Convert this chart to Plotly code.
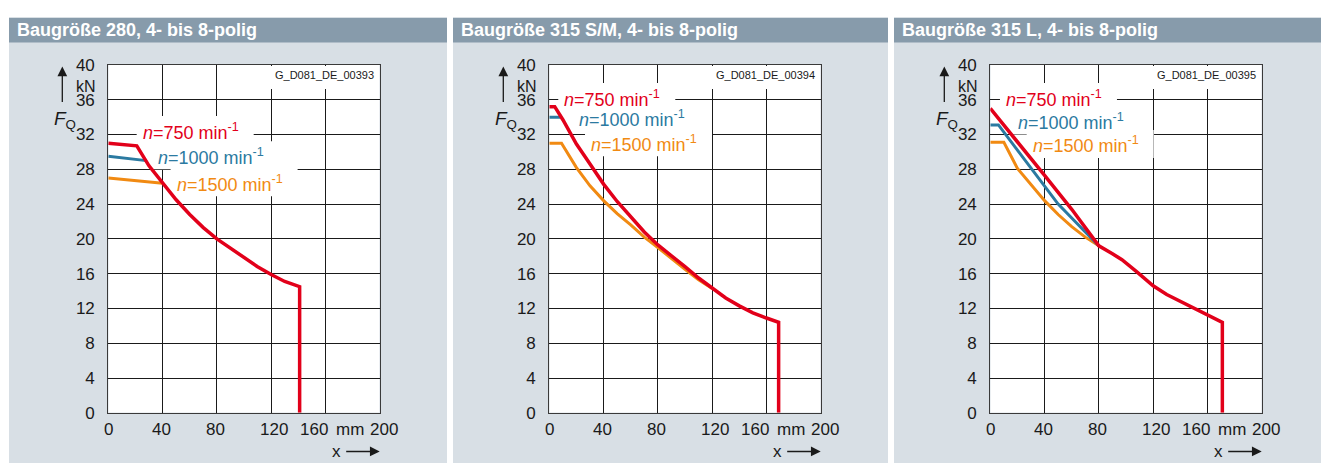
import plotly.graph_objects as go

W, H = 1321, 473

# ---- data -------------------------------------------------------------
titles = [
    "Baugröße 280, 4- bis 8-polig",
    "Baugröße 315 S/M, 4- bis 8-polig",
    "Baugröße 315 L, 4- bis 8-polig",
]
codes = ["G_D081_DE_00393", "G_D081_DE_00394", "G_D081_DE_00395"]
speed_labels = [
    "<i>n</i>=750 min<sup>-1</sup>",
    "<i>n</i>=1000 min<sup>-1</sup>",
    "<i>n</i>=1500 min<sup>-1</sup>",
]
x_tickvals = [0, 40, 80, 120, 160, 180, 200]
x_ticktext = ["0", "40", "80", "120", "160", "mm", "200"]
x_grid = [40, 80, 120, 160]
y_ticks = [0, 4, 8, 12, 16, 20, 24, 28, 32, 36, 40]

# Baugröße 280
x280_750 = [0, 21, 30, 40, 50, 60, 70, 80, 90, 100, 110, 120, 130, 141, 141]
y280_750 = [31.0, 30.7, 28.4, 26.4, 24.5, 22.8, 21.3, 20.0, 18.9, 17.8, 16.8, 15.9, 15.1, 14.5, 0]
x280_1000 = [0, 28]
y280_1000 = [29.5, 29.0]
x280_1500 = [0, 40]
y280_1500 = [27.0, 26.4]

# Baugröße 315 S/M
x315sm_750 = [0, 4, 10, 20, 30, 40, 50, 60, 70, 80, 90, 100, 110, 120, 130, 140, 150, 160, 169, 169]
y315sm_750 = [35.2, 35.2, 33.7, 30.9, 28.6, 26.3, 24.3, 22.5, 20.8, 19.3, 18.1, 16.8, 15.5, 14.3, 13.2, 12.3, 11.5, 10.9, 10.4, 0]
x315sm_1000 = [0, 8]
y315sm_1000 = [34.0, 34.0]
x315sm_1500 = [0, 9, 20, 30, 40, 50, 60, 70, 80, 90, 100, 110, 120]
y315sm_1500 = [31.0, 31.0, 28.2, 26.1, 24.4, 22.9, 21.6, 20.2, 19.0, 17.7, 16.5, 15.3, 14.3]

# Baugröße 315 L
x315l_750 = [0, 20, 40, 60, 80, 90, 97, 108, 120, 130, 140, 150, 160, 171, 171]
y315l_750 = [35.0, 31.2, 27.3, 23.4, 19.2, 18.3, 17.6, 16.2, 14.6, 13.6, 12.8, 12.0, 11.2, 10.4, 0]
x315l_1000 = [0, 6, 20, 40, 50, 60, 70, 80]
y315l_1000 = [33.1, 33.1, 30.2, 26.0, 24.0, 22.4, 20.8, 19.2]
x315l_1500 = [0, 10, 20, 30, 40, 50, 60, 70, 80]
y315l_1500 = [31.1, 31.1, 28.1, 26.2, 24.4, 22.8, 21.4, 20.2, 19.2]

# label anchor (start of text, centre height) per panel: 750 / 1000 / 1500
label_pos = [
    [(24.6, 32.4), (35.6, 29.5), (49.6, 26.4)],
    [(10.3, 36.2), (21.4, 33.9), (30.0, 31.0)],
    [(10.8, 36.2), (19.4, 33.5), (30.5, 30.8)],
]

curves = [
    [(x280_750, y280_750), (x280_1000, y280_1000), (x280_1500, y280_1500)],
    [(x315sm_750, y315sm_750), (x315sm_1000, y315sm_1000), (x315sm_1500, y315sm_1500)],
    [(x315l_750, y315l_750), (x315l_1000, y315l_1000), (x315l_1500, y315l_1500)],
]

# ---- styling ----------------------------------------------------------
RED = "#e2001a"
BLUE = "#2b7aa1"
ORANGE = "#f18a12"
colors = [RED, BLUE, ORANGE]
widths = [3.5, 3, 3]
label_box_w = [112, 122, 122]               # white knock-out behind each speed label (px)
x_label_shift = [0, -1, -1, 2.5, -11, -3, 4]  # pixel nudges of the x-axis texts
HEADER = "#879bab"
BODY = "#d8dfe5"
INK = "#1a1a1a"
FONT = "Liberation Sans, Arial, sans-serif"

# page-pixel layout
panel_px = [(9, 447), (453, 888), (894, 1321)]
plot_left = [108.3, 549.3, 990.3]
plot_w = 271.4
plot_top, plot_bot = 58.3, 420.7


def px(x):
    return min(max(x / W, 0), 1)


def py(y):
    return min(max(1 - y / H, 0), 1)


fig = go.Figure()
shapes = []
annotations = []

for i in range(3):
    xa = "x" if i == 0 else f"x{i + 1}"
    ya = "y" if i == 0 else f"y{i + 1}"
    L = plot_left[i]
    R = L + plot_w

    # panel background and title bar
    p0, p1 = panel_px[i]
    shapes.append(dict(type="rect", xref="paper", yref="paper", layer="below",
                       x0=px(p0), x1=px(p1), y0=0, y1=py(9),
                       fillcolor=BODY, line=dict(width=0)))
    shapes.append(dict(type="rect", xref="paper", yref="paper", layer="below",
                       x0=px(p0), x1=px(p1), y0=py(35), y1=py(9),
                       fillcolor=HEADER, line=dict(width=0)))
    # white plotting area
    shapes.append(dict(type="rect", xref=xa, yref=ya, layer="below",
                       x0=0, x1=200, y0=0, y1=40,
                       fillcolor="white", line=dict(width=0)))

    annotations.append(dict(xref="paper", yref="paper", x=px(p0 + 6), y=py(22),
                            xanchor="left", yanchor="middle", showarrow=False,
                            text=f"<b>{titles[i]}</b>",
                            font=dict(family=FONT, size=18, color="white")))

    # curves: orange, blue, then red on top
    for k in (2, 1, 0):
        cx, cy = curves[i][k]
        fig.add_trace(go.Scatter(x=cx, y=cy, mode="lines", xaxis=xa, yaxis=ya,
                                 line=dict(color=colors[k], width=widths[k]),
                                 hoverinfo="skip", showlegend=False))

    # speed labels: white knock-out over the grid but under the curves
    for k in range(3):
        lx, ly = label_pos[i][k]
        shapes.append(dict(type="rect", xref=xa, yref=ya, layer="between",
                           xsizemode="pixel", xanchor=lx, x0=-5, x1=label_box_w[k],
                           ysizemode="pixel", yanchor=ly, y0=-13, y1=15,
                           fillcolor="white", line=dict(width=0)))
        annotations.append(dict(xref=xa, yref=ya, x=lx, y=ly, xanchor="left",
                                yanchor="middle", showarrow=False,
                                text=speed_labels[k], borderpad=0,
                                font=dict(family=FONT, size=18, color=colors[k])))

    # drawing code in the top right corner
    shapes.append(dict(type="rect", xref=xa, yref=ya, layer="between",
                       xsizemode="pixel", xanchor=200, x0=-112, x1=-1,
                       ysizemode="pixel", yanchor=40, y0=-24, y1=-1,
                       fillcolor="white", line=dict(width=0)))
    annotations.append(dict(xref=xa, yref=ya, x=200, y=40, xanchor="right",
                            yanchor="middle", xshift=-4, yshift=-10, showarrow=False,
                            text=codes[i],
                            font=dict(family=FONT, size=11, color=INK)))

    # x-axis texts (numbers and unit)
    for pos, txt, dx in zip(x_tickvals, x_ticktext, x_label_shift):
        annotations.append(dict(xref=xa, yref=ya, x=pos, y=0, xshift=dx, yshift=-17,
                                xanchor="center", yanchor="middle", showarrow=False,
                                text=txt, font=dict(family=FONT, size=17, color=INK)))

    # axis captions and arrows
    annotations.append(dict(xref="paper", yref="paper", x=px(L - 10.3), y=py(80.5),
                            xanchor="right", yanchor="middle", showarrow=False,
                            text="kN", font=dict(family=FONT, size=16, color=INK)))
    annotations.append(dict(xref="paper", yref="paper", x=px(L - 56), y=py(116),
                            xanchor="left", yanchor="middle", showarrow=False,
                            text="<i>F</i><sub>Q</sub>",
                            font=dict(family=FONT, size=19, color=INK)))
    annotations.append(dict(xref="paper", yref="paper", x=px(L - 46), y=py(60),
                            ax=0, ay=37, showarrow=True, text="",
                            arrowhead=2, arrowsize=1.5, arrowwidth=1.3, arrowcolor=INK))
    annotations.append(dict(xref="paper", yref="paper", x=px(R - 43.5), y=py(460.7),
                            xanchor="center", yanchor="middle", showarrow=False,
                            text="x", font=dict(family=FONT, size=17, color=INK)))
    annotations.append(dict(xref="paper", yref="paper", x=px(R), y=py(461),
                            ax=-35, ay=0, showarrow=True, text="",
                            arrowhead=2, arrowsize=1.5, arrowwidth=1.3, arrowcolor=INK))

    axis_common = dict(zeroline=False, showline=True, mirror=True,
                       linecolor="#3a3a3a", linewidth=1.2, ticks="",
                       tickfont=dict(family=FONT, size=17, color=INK),
                       fixedrange=True)
    fig.layout[("xaxis" if i == 0 else f"xaxis{i + 1}")] = dict(
        axis_common, domain=[px(L), px(R)], range=[0, 200],
        tickvals=x_grid, showticklabels=False, showgrid=True,
        gridcolor=INK, gridwidth=1, anchor=ya)
    fig.layout[("yaxis" if i == 0 else f"yaxis{i + 1}")] = dict(
        axis_common, domain=[py(plot_bot), py(plot_top)], range=[0, 40],
        tickvals=y_ticks, showgrid=True, gridcolor=INK, gridwidth=1,
        anchor=xa, ticklabelstandoff=9)

fig.update_layout(
    width=W, height=H, margin=dict(l=0, r=0, t=0, b=0),
    paper_bgcolor="white", plot_bgcolor="white",
    shapes=shapes, annotations=annotations, showlegend=False,
    font=dict(family=FONT, color=INK),
)

fig.write_html("out.html", config=dict(displayModeBar=False))
